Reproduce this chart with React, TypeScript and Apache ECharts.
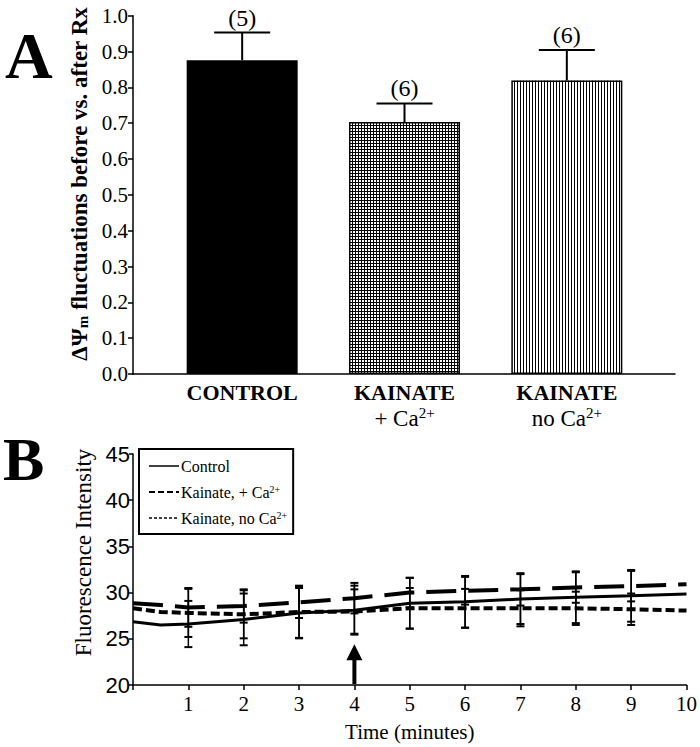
import React, { useEffect, useRef } from "react";
import * as echarts from "echarts";

// ---------- Panel A data ----------
const barCategories = ["CONTROL", "KAINATE_CA", "KAINATE_NOCA"];
const barMeans = [0.876, 0.703, 0.819];
const barErrors = [0.077, 0.052, 0.085];
const barCounts = ["(5)", "(6)", "(6)"];

// ---------- Panel B data ----------
const times = [0, 0.5, 1, 2, 3, 4, 5, 6, 7, 8, 9, 10];
const controlValues = [26.85, 26.5, 26.6, 27.1, 27.8, 28.1, 28.85, 29.0, 29.3, 29.5, 29.65, 29.85];
const kainateCaValues = [28.85, 28.65, 28.4, 28.55, 28.95, 29.4, 30.0, 30.2, 30.35, 30.55, 30.7, 30.9];
const kainateNoCaValues = [28.3, 27.9, 27.8, 27.65, 27.9, 27.95, 28.3, 28.3, 28.3, 28.3, 28.2, 28.05];
const errTimes = [1, 2, 3, 4, 5, 6, 7, 8, 9];
const controlErr = [2.5, 2.8, 2.7, 2.65, 2.75, 2.8, 2.7, 2.8, 2.8];
const kainateCaErr = [2.1, 1.8, 1.7, 1.65, 1.6, 1.5, 1.75, 1.65, 1.65];
const kainateNoCaErr = [2.6, 2.6, 2.85, 2.4, 2.2, 2.1, 1.95, 1.8, 1.7];
const arrowTime = 4;
const arrowRange = [20, 24.4];

const SERIF = "'Liberation Serif', 'Times New Roman', serif";
const SANS = "'Liberation Sans', Arial, sans-serif";

const catLabelText: Record<string, string> = {
  CONTROL: "{b|CONTROL}",
  KAINATE_CA: "{b|KAINATE}\n{n|+ Ca}{sup|2+}",
  KAINATE_NOCA: "{b|KAINATE}\n{n|no Ca}{sup|2+}",
};
const hatchKinds = ["solid", "grid", "vertical"];

const legendText: Record<string, string> = {
  Control: "Control",
  "Kainate, + Ca2+": "Kainate, + Ca{sup|2+}",
  "Kainate, no Ca2+": "Kainate, no Ca{sup|2+}",
};

function pairs(xs: number[], ys: number[]) {
  return xs.map((x, i) => [x, ys[i]]);
}
function errData(vals: number[], errs: number[]) {
  return errTimes.map((t, i) => [t, vals[times.indexOf(t)], errs[i]]);
}

function errRenderB(params: any, api: any) {
  const t = api.value(0);
  const m = api.value(1);
  const e = api.value(2);
  const top = api.coord([t, m + e]);
  const bot = api.coord([t, m - e]);
  const hw = 4;
  return {
    type: "group",
    children: [
      { type: "line", shape: { x1: top[0], y1: top[1], x2: bot[0], y2: bot[1] }, style: { stroke: "#000", lineWidth: 1.5 } },
      { type: "line", shape: { x1: top[0] - hw, y1: top[1], x2: top[0] + hw, y2: top[1] }, style: { stroke: "#000", lineWidth: 2 } },
      { type: "line", shape: { x1: bot[0] - hw, y1: bot[1], x2: bot[0] + hw, y2: bot[1] }, style: { stroke: "#000", lineWidth: 2 } },
    ],
  };
}

export default function App() {
  const ref = useRef<HTMLDivElement>(null);
  useEffect(() => {
    if (!ref.current) return;
    const chart = echarts.init(ref.current, null, { renderer: "svg" });
    const option: any = {
      animation: false,
      backgroundColor: "#fff",
      graphic: [
        { type: "text", left: 5, top: 22, style: { text: "A", font: `bold 66px ${SERIF}`, fill: "#000" } },
        { type: "text", left: 3, top: 428, style: { text: "B", font: `bold 62px ${SERIF}`, fill: "#000" } },
      ],
      grid: [
        { left: 133, right: 25, top: 15.7, height: 358.3 },
        { left: 161, right: 52, top: 15.7, height: 358.3 },
        { left: 133, right: 13, top: 454, height: 231 },
      ],
      legend: {
        orient: "vertical",
        left: 139,
        top: 449,
        padding: [9, 6, 8, 9],
        itemGap: 10,
        itemWidth: 30,
        itemHeight: 14,
        borderColor: "#000",
        borderWidth: 2,
        backgroundColor: "#fff",
        itemStyle: { color: "rgba(0,0,0,0)", borderColor: "rgba(0,0,0,0)", borderWidth: 0 },
        data: [
          { name: "Control", lineStyle: { width: 1.5, type: "solid", color: "#000" } },
          { name: "Kainate, + Ca2+", lineStyle: { width: 2, type: [6, 3], color: "#000" } },
          { name: "Kainate, no Ca2+", lineStyle: { width: 1.5, type: [3, 2], color: "#000" } },
        ],
        formatter: (n: string) => legendText[n] || n,
        textStyle: {
          fontFamily: SERIF,
          fontSize: 16,
          color: "#000",
          padding: [0, 0, 0, -3],
          rich: { sup: { fontFamily: SERIF, fontSize: 10, verticalAlign: "top", color: "#000" } },
        },
      },
      xAxis: [
        {
          gridIndex: 0, type: "value", min: 0, max: 1,
          axisLine: { show: true, lineStyle: { color: "#000", width: 1.5 } },
          axisTick: { show: false }, axisLabel: { show: false }, splitLine: { show: false },
        },
        {
          gridIndex: 1, type: "category", data: barCategories,
          axisLine: { show: false }, axisTick: { show: false }, splitLine: { show: false },
          axisLabel: {
            margin: 5,
            interval: 0,
            formatter: (v: string) => catLabelText[v] || v,
            rich: {
              b: { fontFamily: SERIF, fontWeight: "bold", fontSize: 22, lineHeight: 26, color: "#000" },
              n: { fontFamily: SERIF, fontSize: 23, lineHeight: 26, color: "#000" },
              sup: { fontFamily: SERIF, fontSize: 15, lineHeight: 26, verticalAlign: "top", color: "#000" },
            },
          },
        },
        {
          gridIndex: 2, type: "value", min: 0, max: 10, interval: 1,
          name: "Time (minutes)", nameLocation: "middle", nameGap: 36,
          nameTextStyle: { fontFamily: SERIF, fontSize: 21, color: "#000" },
          axisLine: { show: true, lineStyle: { color: "#000", width: 1.5 } },
          axisTick: { show: true, length: 5, lineStyle: { color: "#000", width: 1.5 } },
          axisLabel: {
            fontFamily: SERIF, fontSize: 21, color: "#000", margin: 8,
            formatter: (v: number) => (v === 0 ? "" : String(v)),
          },
          splitLine: { show: false },
        },
      ],
      yAxis: [
        {
          gridIndex: 0, type: "value", min: 0, max: 1, interval: 0.1,
          name: "{n|ΔΨ}{sub|m}{n| fluctuations before vs. after Rx}",
          nameLocation: "middle", nameGap: 36, nameRotate: 90,
          nameTextStyle: {
            fontFamily: SERIF, fontWeight: "bold", fontSize: 23, color: "#000",
            padding: [0, 0, 0, 22],
            rich: {
              n: { fontFamily: SERIF, fontWeight: "bold", fontSize: 23, color: "#000" },
              sub: { fontFamily: SERIF, fontWeight: "bold", fontSize: 15, verticalAlign: "bottom", color: "#000" },
            },
          },
          axisLine: { show: true, lineStyle: { color: "#000", width: 1.5 } },
          axisTick: { show: true, length: 5, lineStyle: { color: "#000", width: 1.5 } },
          axisLabel: {
            fontFamily: SERIF, fontSize: 21, color: "#000", margin: 5,
            formatter: (v: number) => v.toFixed(1),
          },
          splitLine: { show: false },
        },
        { gridIndex: 1, type: "value", min: 0, max: 1, show: false, splitLine: { show: false } },
        {
          gridIndex: 2, type: "value", min: 20, max: 45, interval: 5,
          name: "Fluorescence Intensity", nameLocation: "middle", nameGap: 36, nameRotate: 90,
          nameTextStyle: { fontFamily: SERIF, fontSize: 23, color: "#000", padding: [0, 0, 0, 34] },
          axisLine: { show: true, lineStyle: { color: "#000", width: 1.5 } },
          axisTick: { show: true, length: 4, lineStyle: { color: "#000", width: 1.5 } },
          axisLabel: { fontFamily: SANS, fontSize: 22, color: "#000", margin: 3 },
          splitLine: { show: false },
        },
      ],
      series: [
        {
          type: "bar",
          xAxisIndex: 1, yAxisIndex: 1,
          barWidth: 111,
          z: 2,
          data: barMeans.map((v, i) => ({
            value: v,
            itemStyle: {
              color: hatchKinds[i] === "solid" ? "#000" : "#fff",
              borderColor: "#000",
              borderWidth: 1.5,
            },
          })),
        },
        {
          type: "custom",
          xAxisIndex: 1, yAxisIndex: 1,
          z: 4,
          data: barMeans.map((v, i) => [i, v]),
          renderItem: (params: any, api: any) => {
            const i = params.dataIndex;
            const v = api.value(1);
            const kind = hatchKinds[i];
            const top = api.coord([i, v]);
            const base = api.coord([i, 0]);
            const w = 111;
            const x0 = top[0] - w / 2;
            const x1 = top[0] + w / 2;
            const y0 = top[1];
            const y1 = base[1];
            const children: any[] = [];
            if (kind !== "solid") {
              for (let x = x0 + 3; x < x1 - 1; x += 3) {
                const xc = Math.round(x) + 0.5;
                children.push({ type: "line", shape: { x1: xc, y1: y0, x2: xc, y2: y1 }, style: { stroke: "#000", lineWidth: 1 } });
              }
              if (kind === "grid") {
                for (let y = y0 + 3; y < y1 - 1; y += 3) {
                  const yc = Math.round(y) + 0.5;
                  children.push({ type: "line", shape: { x1: x0, y1: yc, x2: x1, y2: yc }, style: { stroke: "#000", lineWidth: 1 } });
                }
              }
            }
            return { type: "group", children };
          },
        },
        {
          type: "custom",
          xAxisIndex: 1, yAxisIndex: 1,
          z: 5,
          data: barMeans.map((v, i) => [i, v, barErrors[i]]),
          renderItem: (params: any, api: any) => {
            const i = params.dataIndex;
            const m = api.value(1);
            const e = api.value(2);
            const base = api.coord([i, m]);
            const top = api.coord([i, m + e]);
            const hw = 28;
            return {
              type: "group",
              children: [
                { type: "line", shape: { x1: base[0], y1: base[1], x2: top[0], y2: top[1] }, style: { stroke: "#000", lineWidth: 2 } },
                { type: "line", shape: { x1: top[0] - hw, y1: top[1], x2: top[0] + hw, y2: top[1] }, style: { stroke: "#000", lineWidth: 2 } },
                {
                  type: "text",
                  style: {
                    text: barCounts[i], x: top[0], y: top[1] - 3,
                    align: "center", verticalAlign: "bottom",
                    fontFamily: SERIF, fontSize: 24, fill: "#000",
                  },
                },
              ],
            };
          },
        },
        {
          name: "Control", type: "line", xAxisIndex: 2, yAxisIndex: 2,
          data: pairs(times, controlValues), symbol: "none",
          lineStyle: { color: "#000", width: 3, type: "solid" }, itemStyle: { color: "#000" },
        },
        {
          name: "Kainate, + Ca2+", type: "line", xAxisIndex: 2, yAxisIndex: 2,
          data: pairs(times, kainateCaValues), symbol: "none",
          lineStyle: { color: "#000", width: 4, type: [30, 12] }, itemStyle: { color: "#000" },
        },
        {
          name: "Kainate, no Ca2+", type: "line", xAxisIndex: 2, yAxisIndex: 2,
          data: pairs(times, kainateNoCaValues), symbol: "none",
          lineStyle: { color: "#000", width: 4, type: [9, 4] }, itemStyle: { color: "#000" },
        },
        { type: "custom", xAxisIndex: 2, yAxisIndex: 2, z: 3, data: errData(controlValues, controlErr), renderItem: errRenderB },
        { type: "custom", xAxisIndex: 2, yAxisIndex: 2, z: 3, data: errData(kainateCaValues, kainateCaErr), renderItem: errRenderB },
        { type: "custom", xAxisIndex: 2, yAxisIndex: 2, z: 3, data: errData(kainateNoCaValues, kainateNoCaErr), renderItem: errRenderB },
        {
          type: "custom", xAxisIndex: 2, yAxisIndex: 2, z: 3,
          data: [[arrowTime, arrowRange[0], arrowRange[1]]],
          renderItem: (params: any, api: any) => {
            const base = api.coord([api.value(0), api.value(1)]);
            const tip = api.coord([api.value(0), api.value(2)]);
            const headH = 16;
            const headW = 8;
            return {
              type: "group",
              children: [
                { type: "rect", shape: { x: base[0] - 2, y: tip[1] + headH - 1, width: 4, height: base[1] - tip[1] - headH }, style: { fill: "#000" } },
                {
                  type: "polygon",
                  shape: { points: [[tip[0], tip[1]], [tip[0] - headW, tip[1] + headH], [tip[0] + headW, tip[1] + headH]] },
                  style: { fill: "#000" },
                },
              ],
            };
          },
        },
      ],
    };
    chart.setOption(option);
    return () => chart.dispose();
  }, []);
  return (
    <div
      ref={ref}
      style={{ position: "fixed", left: 0, top: 0, width: 700, height: 747, background: "#fff" }}
    />
  );
}
